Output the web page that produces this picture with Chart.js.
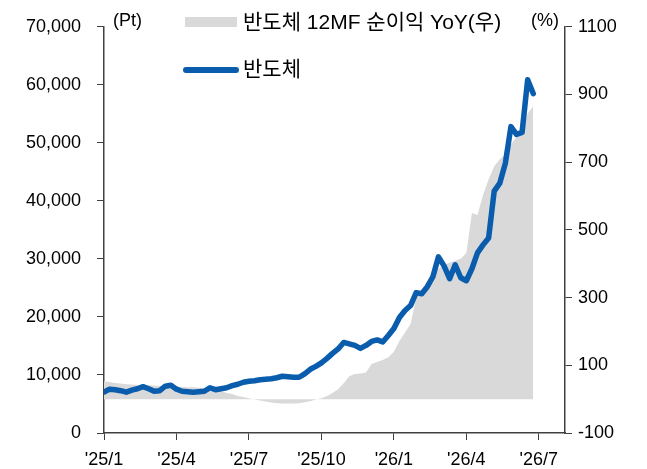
<!DOCTYPE html>
<html>
<head>
<meta charset="utf-8">
<script src="https://cdn.jsdelivr.net/npm/chart.js@4"></script>
<style>
    html, body { margin: 0; padding: 0; background: #fff; }
    #wrap { width: 647px; height: 469px; }
</style>
</head>
<body>
<div id="wrap"><canvas id="chart" width="647" height="469"></canvas></div>
<script>
// weekly points, '25/1 ~ '26/7
const xTickLabels = ["'25/1", "'25/4", "'25/7", "'25/10", "'26/1", "'26/4", "'26/7"];
const leftTicks = [0, 10000, 20000, 30000, 40000, 50000, 60000, 70000];
const rightTicks = [-100, 100, 300, 500, 700, 900, 1100];

// 반도체 지수 (Pt)
const semiIndex = [
    7030, 7550, 7460, 7290, 7030, 7380, 7630, 7980, 7630, 7200,
    7290, 8060, 8230, 7550, 7200, 7120, 7030, 7120, 7200, 7800,
    7460, 7630, 7800, 8150, 8400, 8750, 8920, 9000, 9180, 9260,
    9350, 9520, 9780, 9690, 9610, 9610, 10200, 10980, 11490, 12090,
    12860, 13720, 14490, 15610, 15350, 15090, 14580, 15090, 15780, 16040,
    15690, 16810, 18010, 19900, 21100, 21960, 24190, 24010, 25210, 26930,
    30360, 28800, 26590, 28990, 26760, 26240, 28300, 31050, 32420, 33620,
    41680, 43050, 46480, 52800, 51460, 51800, 60890, 58490
];

// 반도체 12MF 순이익 YoY (%), 우축
const profitYoY = [
    53, 51, 48, 46, 44, 43, 42, 41, 41, 40,
    39, 38, 38, 37, 36, 35, 35, 34, 33, 32,
    28, 24, 18, 15, 9, 6, 3, -1, -4, -7,
    -10, -12, -13, -13, -13, -12, -9, -6, -1, 3,
    9, 18, 29, 47, 68, 74, 76, 79, 104, 110,
    116, 124, 140, 172, 197, 222, 300, 321, 341, 368,
    385, 397, 403, 409, 415, 432, 550, 544, 603, 650,
    688, 709, 724, 753, 774, 791, 844, 865
];

const weeks = semiIndex.map((_, i) => i);

const FONT = '"Liberation Sans", Arial, "Noto Sans CJK KR", sans-serif';
const AXIS_COLOR = '#404040';
const BLUE = '#0a5cad';
const GRAY = '#d9d9d9';

const overlay = {
    id: 'overlay',
    afterDraw(chart) {
        const ctx = chart.ctx;
        ctx.save();
        ctx.fillStyle = '#000';
        ctx.textBaseline = 'middle';
        ctx.font = '18px ' + FONT;
        ctx.textAlign = 'left';
        ctx.fillText('(Pt)', 113, 21);
        ctx.textAlign = 'right';
        ctx.fillText('(%)', 559, 21);

        // legend
        ctx.font = '21px ' + FONT;
        ctx.textAlign = 'left';
        ctx.fillStyle = GRAY;
        ctx.fillRect(185, 17, 52, 10);
        ctx.fillStyle = '#000';
        ctx.fillText('반도체 12MF 순이익 YoY(우)', 243, 23);

        ctx.strokeStyle = BLUE;
        ctx.lineWidth = 6;
        ctx.lineCap = 'round';
        ctx.beginPath();
        ctx.moveTo(186, 70);
        ctx.lineTo(236, 70);
        ctx.stroke();
        ctx.fillText('반도체', 243, 70);
        ctx.restore();
    }
};

const ctx = document.getElementById('chart').getContext('2d');
new Chart(ctx, {
    type: 'line',
    data: {
        labels: weeks,
        datasets: [{
            label: '반도체',
            data: semiIndex,
            yAxisID: 'y',
            borderColor: BLUE,
            borderWidth: 5.5,
            borderCapStyle: 'round',
            borderJoinStyle: 'round',
            pointRadius: 0,
            fill: false,
            order: 0
        }, {
            label: '반도체 12MF 순이익 YoY(우)',
            data: profitYoY,
            yAxisID: 'y1',
            borderWidth: 0,
            borderColor: GRAY,
            backgroundColor: GRAY,
            pointRadius: 0,
            fill: 'origin',
            order: 1
        }]
    },
    options: {
        responsive: false,
        animation: false,
        devicePixelRatio: 1,
        layout: { padding: { top: 25, left: 0, right: 0, bottom: 0 } },
        plugins: {
            legend: { display: false },
            tooltip: { enabled: false }
        },
        scales: {
            x: {
                type: 'linear',
                min: 0,
                max: 82.7,
                afterBuildTicks: (scale) => {
                    scale.ticks = xTickLabels.map((_, i) => ({ value: i * 13 }));
                },
                afterFit: (scale) => { scale.height = 36; },
                ticks: {
                    autoSkip: false,
                    maxRotation: 0,
                    padding: 9,
                    color: '#000',
                    font: { family: FONT, size: 18 },
                    callback: (v, i) => xTickLabels[i]
                },
                grid: { drawOnChartArea: false, drawTicks: true, tickLength: 7, color: AXIS_COLOR },
                border: { color: AXIS_COLOR, width: 1.5 }
            },
            y: {
                position: 'left',
                min: 0,
                max: 70000,
                afterBuildTicks: (scale) => {
                    scale.ticks = leftTicks.map(v => ({ value: v }));
                },
                afterFit: (scale) => { scale.width = 104; },
                ticks: {
                    padding: 16,
                    color: '#000',
                    font: { family: FONT, size: 18 },
                    callback: (v) => v.toLocaleString('en-US')
                },
                grid: { drawOnChartArea: false, drawTicks: true, tickLength: 7, color: AXIS_COLOR },
                border: { color: AXIS_COLOR, width: 1.5 }
            },
            y1: {
                position: 'right',
                min: -100,
                max: 1100,
                afterBuildTicks: (scale) => {
                    scale.ticks = rightTicks.map(v => ({ value: v }));
                },
                afterFit: (scale) => { scale.width = 82; },
                ticks: {
                    padding: 6,
                    color: '#000',
                    font: { family: FONT, size: 18 },
                    callback: (v) => String(v)
                },
                grid: { drawOnChartArea: false, drawTicks: true, tickLength: 7, color: AXIS_COLOR },
                border: { color: AXIS_COLOR, width: 1.5 }
            }
        }
    },
    plugins: [overlay]
});
</script>
</body>
</html>
